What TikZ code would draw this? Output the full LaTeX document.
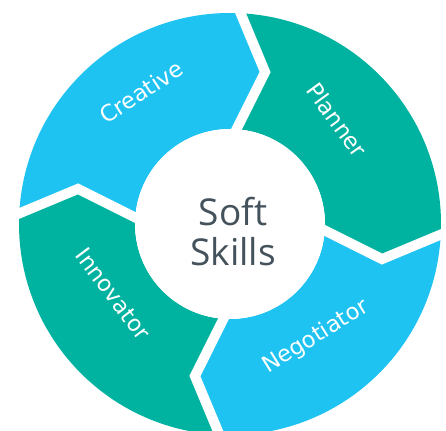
\documentclass[tikz,border=0pt]{standalone}
\usepackage{fontspec}
\setmainfont{Open Sans}
\newfontfamily\labelfont{DejaVu Sans}
\definecolor{skyblue}{HTML}{1EC3F2}
\definecolor{tealgreen}{HTML}{00B3A0}
\definecolor{slategray}{HTML}{44525C}
\tikzset{
  lbl/.style={text=white, font=\labelfont\fontsize{22.5}{26}\selectfont, inner sep=0pt},
  gapline/.style={draw=white, line width=10pt, line join=miter, miter limit=20}
}
\newcommand{\ringseg}[3]{%
  \pgfmathsetmacro{\tipA}{#2-11}%
  \pgfmathsetmacro{\notchA}{#1-11}%
  \fill[#3] (#1:211) arc[start angle=#1, end angle=#2, radius=211]
    -- (\tipA:156) -- (#2:95) arc[start angle=#2, end angle=#1, radius=95]
    -- (\notchA:156) -- cycle;}
\newcommand{\gapat}[1]{%
  \pgfmathsetmacro{\gA}{#1-11}%
  \draw[gapline] (#1:218) -- (\gA:156) -- (#1:88);}
\begin{document}
\begin{tikzpicture}[x=1pt,y=1pt]
\useasboundingbox (0,0) rectangle (446,430);
\clip (0,0) rectangle (446,430);
\fill[white] (0,0) rectangle (446,430);
\begin{scope}[shift={(230,206)}]
  \ringseg{178}{88}{skyblue}
  \ringseg{88}{-2}{tealgreen}
  \ringseg{-2}{-92}{skyblue}
  \ringseg{-92}{-182}{tealgreen}
  \gapat{88}
  \gapat{-2}
  \gapat{-92}
  \gapat{178}
  \fill[white] (0,0) circle[radius=95];
\end{scope}
\node[lbl, rotate=33] (creative) at (141,338) {Creative};
\node[lbl, rotate=-54] (planner) at (337,310) {Planner};
\node[lbl, rotate=32] (negotiator) at (316,93) {Negotiator};
\node[lbl, rotate=-53] (innovator) at (113,136) {Innovator};
\node[text=slategray, font=\fontsize{37}{40}\selectfont, align=center, inner sep=0pt] (center) at (233,198) {Soft\\Skills};
\end{tikzpicture}
\end{document}
